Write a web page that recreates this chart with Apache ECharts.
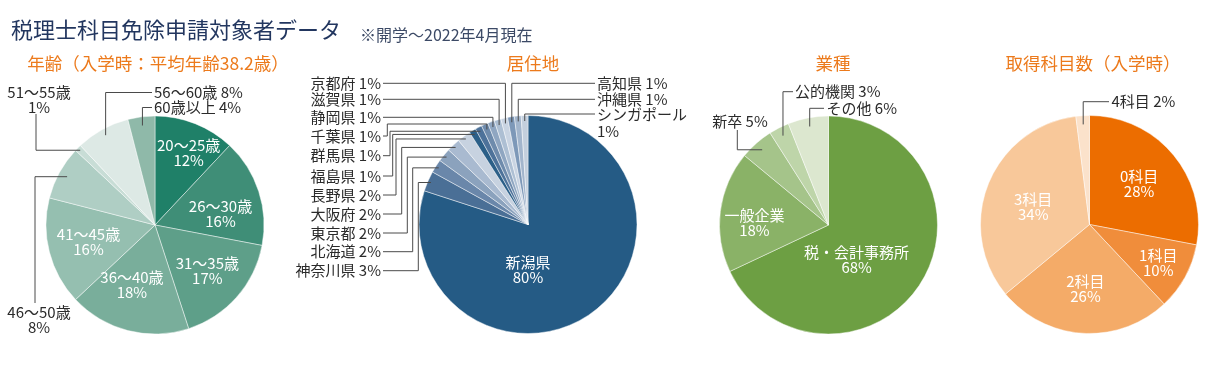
<!DOCTYPE html>
<html><head><meta charset="utf-8">
<script src="https://cdn.jsdelivr.net/npm/echarts@6/dist/echarts.min.js"></script>
<style>html,body{margin:0;padding:0;background:#fff}#c{width:1209px;height:373px}</style>
</head><body><div id="c"></div>
<script>
// ---------- data ----------
const mainTitle = '税理士科目免除申請対象者データ';
const mainNote = '※開学～2022年4月現在';
const chartTitles = ['年齢（入学時：平均年齢38.2歳）', '居住地', '業種', '取得科目数（入学時）'];

const ageNames = ['20～25歳','26～30歳','31～35歳','36～40歳','41～45歳','46～50歳','51～55歳','56～60歳','60歳以上'];
const ageValues = [12,16,17,18,16,8,1,8,4];

const residenceNames = ['新潟県','神奈川県','北海道','東京都','大阪府','長野県','福島県','群馬県','千葉県','静岡県','滋賀県','京都府','高知県','沖縄県','シンガポール'];
const residenceValues = [80,3,2,2,2,2,1,1,1,1,1,1,1,1,1];

const industryNames = ['税・会計事務所','一般企業','新卒','公的機関','その他'];
const industryValues = [68,18,5,3,6];

const subjectNames = ['0科目','1科目','2科目','3科目','4科目'];
const subjectValues = [28,10,26,34,2];

// ---------- styles ----------
const FONT = '"Noto Sans CJK JP", "Noto Sans", sans-serif';
const ORANGE = '#ec7a1c';
const ageColors = ['#1f8068','#3f8e77','#5e9f89','#79ae9b','#95bfb0','#afcec4','#c8ddd6','#dde9e5','#8fb9a9'];
const residenceColors = ['#255b85','#4a6f96','#6a87aa','#8ba2bd','#a9bad0','#c7d2e0','#2b5f88','#4d729a','#6e8bac','#8fa6c1','#adbfd3','#c9d4e2','#7d98b8','#a2b5cc','#c3cfdd'];
const industryColors = ['#6d9f43','#8ab267','#a5c48a','#bed5a9','#dce7cf'];
const subjectColors = ['#ec6d00','#f08d3b','#f4ab68','#f8c89a','#fbe2cb'];

const centers = [[155,225],[528,224.5],[828.5,225],[1089.5,224.5]];
const titleX = [153, 528, 828, 1088];
const RADIUS = 109;

// label placement (inner: r fraction / angle; outer: anchor + leader route)
const agePlace = [
  {r:0.73, ang:25}, {r:0.61, ang:80}, {r:0.64}, {r:0.59, ang:201}, {r:0.63},
  {x:39, y:320, align:'center', two:true, pr:0.92, route:[{x:35},{y:303}]},
  {x:39, y:100, align:'center', two:true, pr:0.97, route:[{x:36},{y:114}]},
  {x:154, y:92.5, align:'left', pr:0.94, route:[{y:92.5},{x:152}]},
  {x:154, y:107.5, align:'left', pr:0.92, route:[{y:107.5},{x:152}]}
];
const resPlace = [
  {r:0.42, ang:180},
  {x:381, y:270.7, align:'right', pr:0.97, route:[{x:418.3},{y:270.7},{x:383}]},
  {x:381, y:251.7, align:'right', pr:0.97, route:[{x:412.7},{y:251.7},{x:383}]},
  {x:381, y:233, align:'right', pr:0.97, route:[{x:407.3},{y:233},{x:383}]},
  {x:381, y:214, align:'right', pr:0.97, route:[{x:401.7},{y:214},{x:383}]},
  {x:381, y:195, align:'right', pr:0.97, route:[{x:396},{y:195},{x:383}]},
  {x:381, y:176, align:'right', pr:0.96, route:[{x:392.7},{y:176},{x:383}]},
  {x:381, y:155.7, align:'right', pr:0.96, route:[{x:390},{y:155.7},{x:383}]},
  {x:381, y:136, align:'right', pr:0.95, route:[{y:124},{x:387.3},{y:136},{x:383}]},
  {x:381, y:117.3, align:'right', pr:0.95, route:[{y:117.3},{x:383}]},
  {x:381, y:99.3, align:'right', pr:0.95, route:[{y:99.3},{x:383}]},
  {x:381, y:83.3, align:'right', pr:0.95, route:[{y:83.3},{x:383}]},
  {x:597, y:83.3, align:'left', pr:0.95, route:[{y:83.3},{x:595}]},
  {x:597, y:99.3, align:'left', pr:0.95, route:[{y:99.3},{x:595}]},
  {x:597, y:122.5, align:'left', two:true, lh:17, pr:0.95, route:[{y:114},{x:595}]}
];
const indPlace = [
  {r:0.41, ang:141}, {r:0.68, ang:272},
  {x:740, y:121.7, align:'center', pr:0.92, route:[{x:737.3},{y:130}]},
  {x:795, y:91.7, align:'left', pr:0.92, route:[{y:91.7},{x:793}]},
  {x:826.5, y:108.3, align:'left', pr:0.92, route:[{y:108.3},{x:824}]}
];
const subPlace = [
  {r:0.59}, {r:0.72}, {r:0.59}, {r:0.54, ang:287},
  {x:1111.5, y:101.7, align:'left', pr:0.92, route:[{y:101.7},{x:1109}]}
];
const places = [agePlace, resPlace, indPlace, subPlace];

const chart = echarts.init(document.getElementById('c'), null, {renderer:'canvas'});

function layoutOf(s, i) {
  return chart.getModel().getSeriesByIndex(s).getData().getItemLayout(i);
}
function makeLabelLayout(pl) {
  return function (params) {
    const p = pl[params.dataIndex];
    if (!p) return {};
    if (p.x != null) return {x:p.x, y:p.y, align:p.align, verticalAlign:'middle'};
    const lay = layoutOf(params.seriesIndex, params.dataIndex);
    const mid = p.ang != null ? (p.ang - 90) * Math.PI / 180 : (lay.startAngle + lay.endAngle) / 2;
    const rr = lay.r * p.r;
    return {x: lay.cx + rr * Math.cos(mid), y: lay.cy + rr * Math.sin(mid), align:'center', verticalAlign:'middle'};
  };
}
function buildData(names, values, colors, pl) {
  return names.map((n, i) => {
    const p = pl[i];
    const outer = p.x != null;
    return {
      name: n, value: values[i],
      itemStyle: {color: colors[i]},
      label: outer ? {
        position: 'outside', color: '#2b2b2b',
        formatter: p.two ? '{b}\n{c}%' : '{b} {c}%',
        lineHeight: p.lh || 15
      } : {
        position: 'inside', color: '#ffffff',
        formatter: '{b}\n{c}%', lineHeight: 15
      }
    };
  });
}
const datasets = [
  [ageNames, ageValues, ageColors],
  [residenceNames, residenceValues, residenceColors],
  [industryNames, industryValues, industryColors],
  [subjectNames, subjectValues, subjectColors]
];

const option = {
  animation: false,
  backgroundColor: '#ffffff',
  textStyle: {fontFamily: FONT},
  title: [
    {text: mainTitle, left: 6, top: 14, textStyle: {fontFamily: FONT, fontSize: 22, fontWeight: 'normal', color: '#22365f'}},
    {text: mainNote, left: 355, top: 22, textStyle: {fontFamily: FONT, fontSize: 16, fontWeight: 'normal', color: '#3c4a66'}}
  ].concat(chartTitles.map((t, i) => ({
    text: t, left: titleX[i], top: 50, textAlign: 'center',
    textStyle: {fontFamily: FONT, fontSize: 17.5, fontWeight: 'normal', color: ORANGE}
  }))),
  series: datasets.map((d, s) => ({
    type: 'pie',
    silent: true,
    center: centers[s],
    radius: RADIUS,
    startAngle: 90,
    clockwise: true,
    avoidLabelOverlap: false,
    itemStyle: {borderColor: 'rgba(255,255,255,0.75)', borderWidth: 0.6},
    label: {show: true, fontFamily: FONT, fontSize: 15, overflow: 'none', width: 220},
    labelLine: {show: false},
    labelLayout: makeLabelLayout(places[s]),
    data: buildData(d[0], d[1], d[2], places[s])
  }))
};
chart.setOption(option);

// leader lines anchored on each slice's computed layout
const lines = [];
places.forEach((pl, s) => {
  pl.forEach((p, i) => {
    if (!p.route) return;
    const lay = layoutOf(s, i);
    const mid = (lay.startAngle + lay.endAngle) / 2;
    let x = lay.cx + lay.r * p.pr * Math.cos(mid);
    let y = lay.cy + lay.r * p.pr * Math.sin(mid);
    const pts = [[x, y]];
    p.route.forEach(st => {
      if (st.x != null) x = st.x;
      if (st.y != null) y = st.y;
      pts.push([x, y]);
    });
    lines.push({type: 'polyline', silent: true, z: 10, shape: {points: pts},
      style: {stroke: '#4a4a4a', lineWidth: 1, fill: null}});
  });
});
chart.setOption({graphic: lines});
</script>
</body></html>
